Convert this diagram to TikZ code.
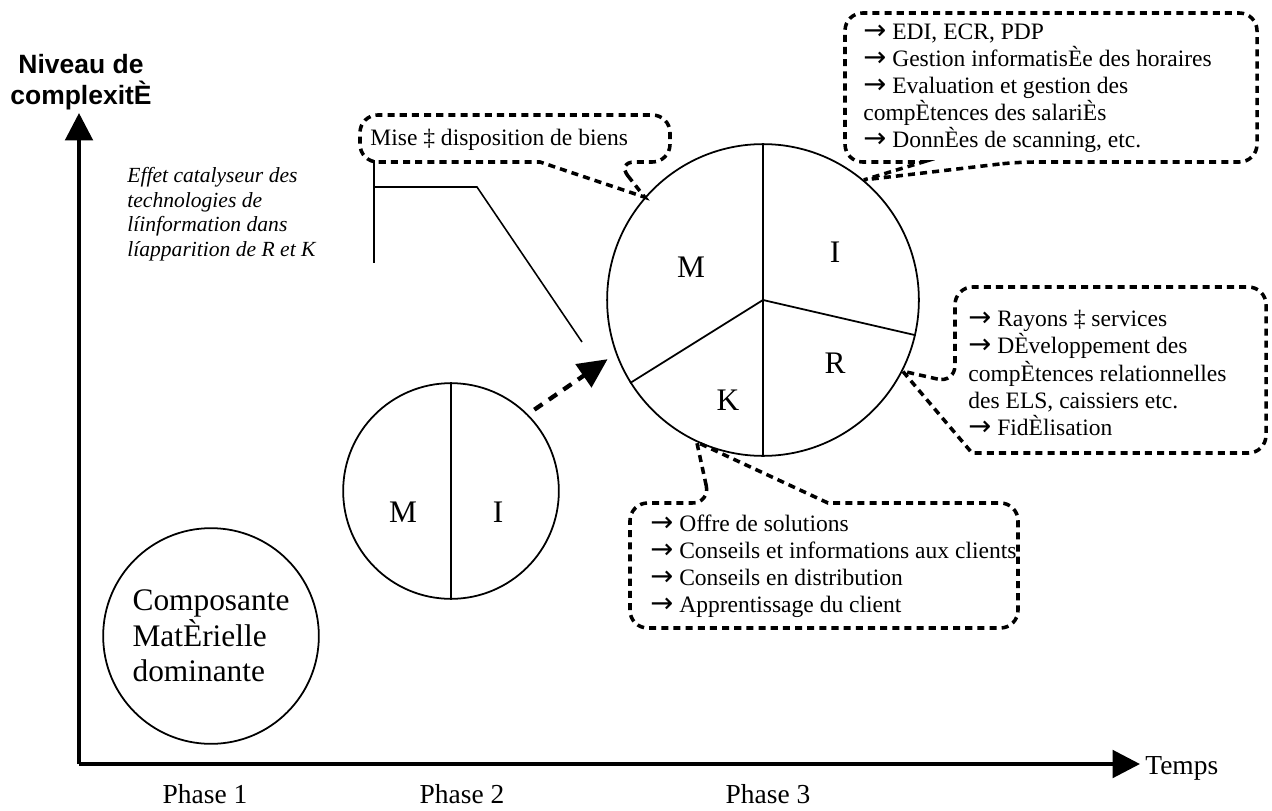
\documentclass[tikz,border=0pt]{standalone}
\usepackage{fontspec}
\setmainfont{Liberation Serif}
\newfontfamily\arialfont{Liberation Sans}
\newfontfamily\flechefont{DejaVu Sans}
\newcommand\fl{{\flechefont\fontsize{14}{13.8}\selectfont →}}
\usetikzlibrary{arrows.meta,positioning}

\begin{document}
\begin{tikzpicture}[x=0.51pt,y=-0.51pt,
    rond/.style={draw, circle, line width=0.9pt, inner sep=0pt},
    lettre/.style={font=\fontsize{16}{18}\selectfont, inner sep=0pt},
    bulle/.style={line width=1.8pt, dash pattern=on 3.6pt off 2.6pt},
    texte/.style={font=\fontsize{12}{13.8}\selectfont, align=left, anchor=west, inner sep=0pt},
    phase/.style={font=\fontsize{14}{16}\selectfont, inner sep=0pt},
    axe/.style={line width=2pt, -{Triangle[length=14pt,width=14pt]}}]
            \useasboundingbox (0,0) rectangle (1272,811);

            % axes
            \coordinate (origine) at (79,764);
            \coordinate (haut) at (79,113);
            \coordinate (droite) at (1140,764);
            \draw[axe] (origine) -- (haut);
            \draw[axe] (origine) -- (droite);
            \node[font=\arialfont\bfseries\fontsize{13.5}{15.5}\selectfont, align=center, inner sep=0pt] (niveau) at (81,82) {Niveau de\\complexitÈ};
            \node[phase, anchor=west] (temps) at (1145,768) {Temps};
            \node[phase] (ph1) at (205,794) {Phase 1};
            \node[phase] (ph2) at (462,794) {Phase 2};
            \node[phase] (ph3) at (768,794) {Phase 3};

            % les trois cercles
            \node[rond, minimum size=110pt, align=left, font=\fontsize{16}{18.2}\selectfont] (phase1) at (211,636) {Composante\\MatÈrielle\\dominante};
            \node[rond, minimum size=110pt] (phase2) at (451,491) {};
            \node[rond, minimum size=159pt] (phase3) at (763,300) {};

            \draw[line width=0.9pt] (phase2.north) -- (phase2.south);
            \node[lettre] (m2) at (403,512) {M};
            \node[lettre] (i2) at (498,512) {I};

            \draw[line width=0.9pt] (phase3.north) -- (phase3.south);
            \draw[line width=0.9pt] (phase3.center) -- (phase3.212);
            \draw[line width=0.9pt] (phase3.center) -- (phase3.-13);
            \node[lettre] (m3) at (691,267) {M};
            \node[lettre] (i3) at (835,252) {I};
            \node[lettre] (r3) at (835,363) {R};
            \node[lettre] (k3) at (728,400) {K};

            \draw[line width=2.2pt, dash pattern=on 5pt off 4pt, -{Triangle[length=15pt,width=14pt]}, shorten <=4pt, shorten >=5pt] (phase2.45) -- (phase3.200);

            % effet catalyseur
            \node[font=\fontsize{11}{12.5}\selectfont\itshape, align=left, anchor=west, inner sep=0pt] (effet) at (127,214) {Effet catalyseur des\\technologies de\\líinformation dans\\líapparition de R et K};
            \draw[line width=0.8pt] (374,160) -- (374,263);
            \draw[line width=0.8pt] (374,187) -- (477,187) -- (582,342);

            % bulles
            \node[texte] (mise) at (370,140) {Mise ‡ disposition de biens};
            \draw[bulle] (617,162) -- (phase3.139) -- (540,162) [rounded corners=9pt] -- (360,162) -- (360,115) -- (670,115) -- (670,162) -- cycle;

            \node[texte] (infos) at (863,88) {\fl{} EDI, ECR, PDP\\\fl{} Gestion informatisÈe des horaires\\\fl{} Evaluation et gestion des\\compÈtences des salariÈs\\\fl{} DonnÈes de scanning, etc.};
            \draw[bulle] (1017,162) -- (phase3.50) -- (923,162) [rounded corners=9pt] -- (845,162) -- (845,13) -- (1257,13) -- (1257,162) -- cycle;

            \node[texte] (relation) at (968,373) {\fl{} Rayons ‡ services\\\fl{} DÈveloppement des\\compÈtences relationnelles\\des ELS, caissiers etc.\\\fl{} FidÈlisation};
            \draw[bulle] (955,383) -- (phase3.-27) -- (972,453) [rounded corners=9pt] -- (1266,453) -- (1266,287) -- (955,287) -- cycle;

            \node[texte] (conseils) at (650,566) {\fl{} Offre de solutions\\\fl{} Conseils et informations aux clients\\\fl{} Conseils en distribution\\\fl{} Apprentissage du client};
            \draw[bulle] (710,503) -- (phase3.245) -- (828,503) [rounded corners=9pt] -- (1018,503) -- (1018,628) -- (630,628) -- (630,503) -- cycle;
        \end{tikzpicture}
\end{document}
